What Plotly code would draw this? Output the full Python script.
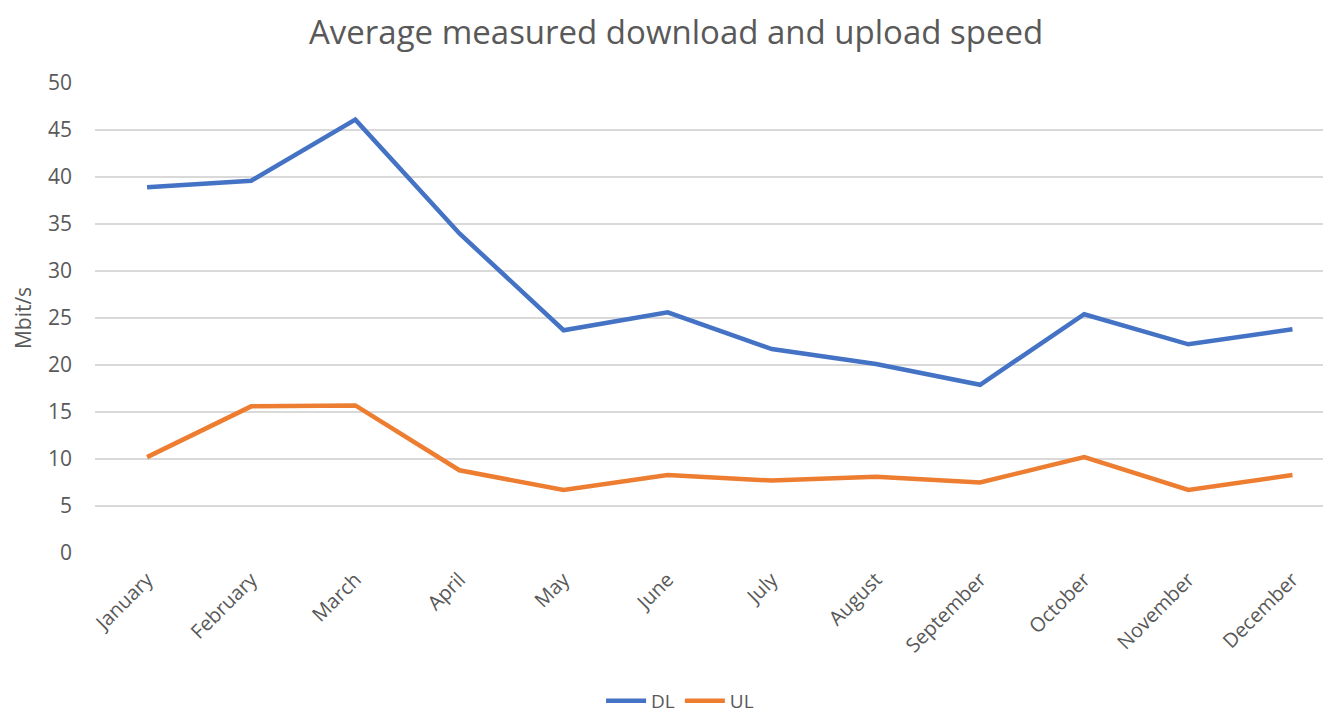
import plotly.graph_objects as go

months = ["January", "February", "March", "April", "May", "June", "July",
          "August", "September", "October", "November", "December"]
dl = [38.9, 39.6, 46.1, 34.0, 23.7, 25.6, 21.7, 20.1, 17.9, 25.4, 22.2, 23.8]
ul = [10.2, 15.6, 15.7, 8.8, 6.7, 8.3, 7.7, 8.1, 7.5, 10.2, 6.7, 8.3]

FONT = "'Open Sans', 'Noto Sans', sans-serif"
GREY = "#595959"

fig = go.Figure()
fig.add_trace(go.Scatter(x=months, y=dl, name="DL", mode="lines",
                         line=dict(color="#4472C4", width=4.5)))
fig.add_trace(go.Scatter(x=months, y=ul, name="UL", mode="lines",
                         line=dict(color="#ED7D31", width=4.5)))

# the page body adds an 8px offset, so the figure is sized to fit
fig.update_layout(
    width=1323, height=707,
    paper_bgcolor="white", plot_bgcolor="white",
    margin=dict(l=87, r=0, t=75, b=162, autoexpand=False),
    title=dict(text="Average measured download and upload speed",
               x=0.505, xanchor="center", y=0.966, yanchor="middle",
               font=dict(family=FONT, size=33, color=GREY)),
    font=dict(family=FONT, size=21, color=GREY),
    showlegend=True,
    legend=dict(orientation="h", xref="container", yref="container",
                x=0.508, xanchor="center", y=0.02, yanchor="middle",
                itemwidth=40,
                font=dict(size=19, color=GREY)),
    xaxis=dict(type="category", range=[-0.5, 11.37], tickangle=-45,
               showgrid=False, showline=False, zeroline=False, automargin=False,
               tickfont=dict(size=20, color=GREY), ticklabelstandoff=10),
    yaxis=dict(range=[0, 50], dtick=5, showgrid=True, gridcolor="#D9D9D9",
               gridwidth=1.5, zeroline=False, showline=False, automargin=False,
               tickfont=dict(size=21, color=GREY), ticklabelstandoff=22,
               title=dict(text="Mbit/s", font=dict(size=21, color=GREY),
                          standoff=10)),
)

fig.write_html("out.html")
